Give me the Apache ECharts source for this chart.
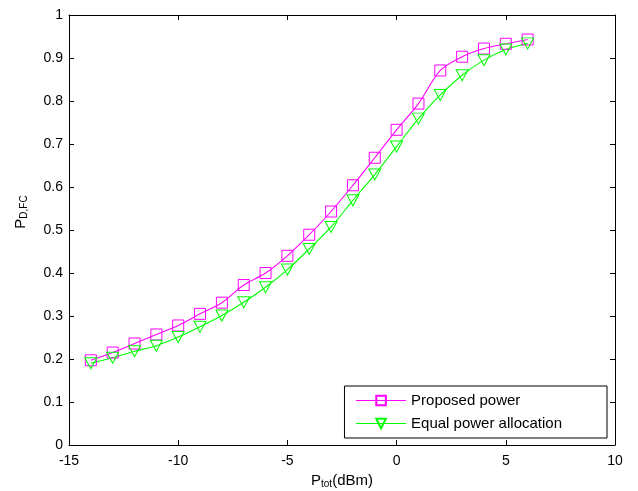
<!DOCTYPE html>
<html><head><meta charset="utf-8">
<script src="https://cdn.jsdelivr.net/npm/echarts@6/dist/echarts.min.js"></script>
<style>html,body{margin:0;padding:0;background:#fff}#c{width:638px;height:491px}</style>
</head><body><div id="c"></div>
<script>
const xVals = [-14,-13,-12,-11,-10,-9,-8,-7,-6,-5,-4,-3,-2,-1,0,1,2,3,4,5,6];
const proposed = [0.197,0.215,0.236,0.257,0.278,0.305,0.331,0.372,0.400,0.440,0.489,0.543,0.604,0.668,0.733,0.794,0.871,0.903,0.922,0.933,0.943];
const equalAlloc = [0.190,0.203,0.218,0.231,0.251,0.275,0.301,0.332,0.367,0.408,0.456,0.507,0.569,0.629,0.694,0.759,0.814,0.860,0.895,0.920,0.934];
const xTicks = [-15,-10,-5,0,5,10];
const yTicks = [0,0.1,0.2,0.3,0.4,0.5,0.6,0.7,0.8,0.9,1];
const seriesNames = ['Proposed power','Equal power allocation'];
const colors = ['#ff00ff','#00ff00'];

const font = 'Liberation Sans, Arial, sans-serif';
const chart = echarts.init(document.getElementById('c'), null, {renderer:'canvas'});
const pair = arr => xVals.map((x,i)=>[x,arr[i]]);
const axisCommon = {
  axisLine:{show:true,onZero:false,lineStyle:{color:'#000',width:1}},
  axisTick:{show:true,inside:true,length:5,lineStyle:{color:'#000'}},
  splitLine:{show:false}
};
chart.setOption({
  animation:false,
  backgroundColor:'#fff',
  grid:{left:69,right:23,top:15,bottom:46,containLabel:false,outerBoundsMode:'none'},
  xAxis:[
    Object.assign({type:'value',min:xTicks[0],max:xTicks[xTicks.length-1],interval:5,position:'bottom',
      axisLabel:{color:'#000',fontFamily:font,fontSize:14,margin:9},
      name:'{a|P}{b|tot}{a|(dBm)}',nameLocation:'middle',nameGap:27,
      nameTextStyle:{rich:{a:{fontFamily:font,fontSize:15,color:'#000'},b:{fontFamily:font,fontSize:10,color:'#000',padding:[7,0,0,0]}}}},axisCommon),
    Object.assign({type:'value',min:-15,max:10,interval:5,position:'top',axisLabel:{show:false}},axisCommon)
  ],
  yAxis:[
    Object.assign({type:'value',min:yTicks[0],max:yTicks[yTicks.length-1],interval:0.1,position:'left',
      axisLabel:{color:'#000',fontFamily:font,fontSize:14,margin:6,formatter:v=>String(Math.round(v*10)/10)},
      name:'{a|P}{b|D,FC}',nameLocation:'middle',nameGap:40,nameRotate:90,
      nameTextStyle:{padding:[0,0,0,36],rich:{a:{fontFamily:font,fontSize:15,color:'#000'},b:{fontFamily:font,fontSize:10,color:'#000',padding:[7,0,0,0]}}}},axisCommon),
    Object.assign({type:'value',min:0,max:1,interval:0.1,position:'right',axisLabel:{show:false}},axisCommon)
  ],
  legend:{
    orient:'vertical',right:31,bottom:53,
    backgroundColor:'#fff',borderColor:'#000',borderWidth:1,borderRadius:0,
    padding:[7,45,7,11],itemGap:8,itemWidth:50,itemHeight:12,
    textStyle:{fontFamily:font,fontSize:15,color:'#000',lineHeight:15},
    data:[
      {name:seriesNames[0],lineStyle:{color:colors[0],width:1.2,opacity:1}},
      {name:seriesNames[1],lineStyle:{color:colors[1],width:1.2,opacity:1}}
    ]
  },
  series:[
    {name:seriesNames[0],type:'line',data:pair(proposed),smooth:0.3,
      symbol:'rect',symbolSize:11,
      lineStyle:{color:colors[0],width:1.1},
      itemStyle:{color:'rgba(255,255,255,0)',borderColor:colors[0],borderWidth:1}},
    {name:seriesNames[1],type:'line',data:pair(equalAlloc),smooth:0.3,
      symbol:'triangle',symbolRotate:180,symbolSize:[12,11],
      lineStyle:{color:colors[1],width:1.1},
      itemStyle:{color:'rgba(255,255,255,0)',borderColor:colors[1],borderWidth:1}}
  ]
});
</script></body></html>
